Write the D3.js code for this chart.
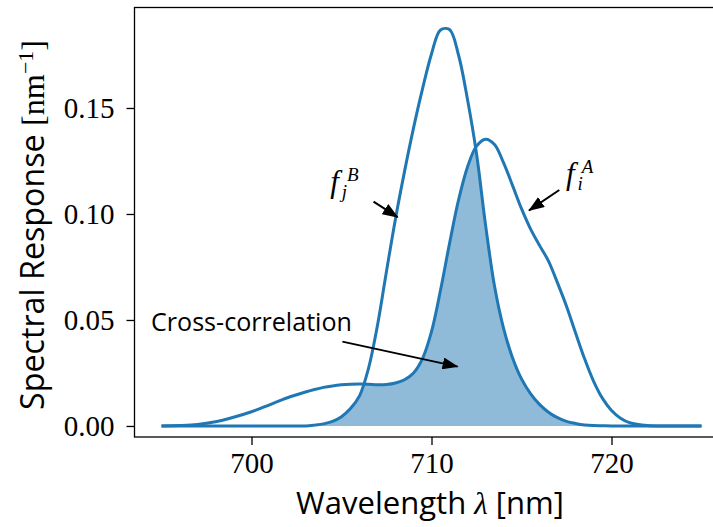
<!DOCTYPE html>
<html><head><meta charset="utf-8">
<script src="https://cdn.jsdelivr.net/npm/d3@7"></script>
<style>body{margin:0;background:#fff}svg{display:block}</style>
</head><body>
<svg id="chart" width="713" height="527"></svg>
<script>
// ---- data ----
const wavelength = [695, 696, 697, 698, 699, 700, 701, 702, 703, 703.5, 704, 704.5, 705, 705.5, 706, 706.5,
  707, 707.5, 708, 708.5, 709, 709.5, 710, 710.5, 711, 711.5, 712, 712.5, 713, 713.5, 714, 714.5,
  715, 715.5, 716, 716.5, 717, 717.5, 718, 718.5, 719, 719.5, 720, 720.5, 721, 722, 723, 724, 725];
const fA = [0, 0.0002, 0.0007, 0.0020, 0.0041, 0.0067, 0.0100, 0.0133, 0.0160, 0.0172, 0.0182, 0.0189, 0.0194, 0.0197, 0.0198, 0.0197,
  0.0195, 0.0196, 0.0203, 0.0218, 0.0250, 0.0318, 0.0445, 0.0640, 0.0860, 0.1065, 0.1222, 0.1320, 0.1353, 0.1328, 0.1242, 0.1135,
  0.1025, 0.0930, 0.0852, 0.0778, 0.0675, 0.0565, 0.0440, 0.0318, 0.0212, 0.0130, 0.0073, 0.0037, 0.0016, 0.0002, 0, 0, 0];
const fB = [0, 0, 0, 0, 0, 0, 0, 0, 0, 0.0004, 0.0010, 0.0022, 0.0044, 0.0082, 0.0142, 0.0272,
  0.0475, 0.0730, 0.0978, 0.1200, 0.1405, 0.1590, 0.1755, 0.1868, 0.1870, 0.1750, 0.1540, 0.1285, 0.0950, 0.0660, 0.0462, 0.0322,
  0.0222, 0.0153, 0.0102, 0.0065, 0.0039, 0.0022, 0.0012, 0.0005, 0.0002, 0.0001, 0, 0, 0, 0, 0, 0, 0];
const xTicks = [700, 710, 720];
const yTicks = [0.00, 0.05, 0.10, 0.15];
const xDomain = [693.5, 726.5];
const yDomain = [-0.0052, 0.1974];

// ---- layout ----
const C0 = "#1f77b4";
const svg = d3.select("#chart");
const L = 134.5, R = 728.5, T = 7.5, B = 437;
const x = d3.scaleLinear().domain(xDomain).range([L, R]);
const y = d3.scaleLinear().domain(yDomain).range([B, T]);
const SERIF = "'Liberation Serif', 'DejaVu Serif', serif";
const SANS = "'Open Sans', 'DejaVu Sans', sans-serif";

const ptsA = wavelength.map((w, i) => [w, fA[i]]);
const ptsB = wavelength.map((w, i) => [w, fB[i]]);

// overlap (min of both curves), with crossing points inserted
const ov = [];
for (let i = 0; i < wavelength.length; i++) {
  ov.push([wavelength[i], Math.min(fA[i], fB[i])]);
  if (i < wavelength.length - 1) {
    const d0 = fA[i] - fB[i], d1 = fA[i + 1] - fB[i + 1];
    if (d0 * d1 < 0) {
      const t = d0 / (d0 - d1);
      ov.push([wavelength[i] + t * (wavelength[i + 1] - wavelength[i]), fA[i] + t * (fA[i + 1] - fA[i])]);
    }
  }
}

svg.append("path")
  .attr("d", d3.area().x(d => x(d[0])).y0(y(0)).y1(d => y(d[1])).curve(d3.curveLinear)(ov))
  .attr("fill", C0).attr("fill-opacity", 0.5);

const line = d3.line().x(d => x(d[0])).y(d => y(d[1])).curve(d3.curveCatmullRom.alpha(0.5));
[ptsB, ptsA].forEach(p => svg.append("path").attr("d", line(p))
  .attr("fill", "none").attr("stroke", C0).attr("stroke-width", 3).attr("stroke-linejoin", "round"));

// ---- axes ----
const gx = svg.append("g").attr("transform", `translate(0,${B})`)
  .call(d3.axisBottom(x).tickValues(xTicks).tickSize(8).tickSizeOuter(0).tickPadding(7).tickFormat(d3.format("d")));
const gy = svg.append("g").attr("transform", `translate(${L},0)`)
  .call(d3.axisLeft(y).tickValues(yTicks).tickSize(8).tickSizeOuter(0).tickPadding(12).tickFormat(d3.format(".2f")));
[gx, gy].forEach(g => {
  g.select(".domain").remove();
  g.selectAll(".tick line").attr("stroke", "#000").attr("stroke-width", 1.3);
  g.selectAll(".tick text").attr("font-family", SERIF).attr("font-size", 29).attr("fill", "#000");
});
svg.append("rect").attr("x", L).attr("y", T).attr("width", R - L).attr("height", B - T)
  .attr("fill", "none").attr("stroke", "#000").attr("stroke-width", 1.3);

// ---- axis labels ----
function fitWidth(sel, target) {
  const w = sel.node().getBBox().width;
  const k = target / w;
  sel.attr("font-size", +sel.attr("font-size") * k);
  sel.selectAll("tspan").each(function () {
    const t = d3.select(this);
    if (t.attr("font-size")) t.attr("font-size", +t.attr("font-size") * k);
  });
}
const xl = svg.append("text").attr("x", 430).attr("y", 514).attr("text-anchor", "middle")
  .attr("font-family", SANS).attr("font-size", 28).attr("fill", "#000");
xl.append("tspan").text("Wavelength ");
xl.append("tspan").attr("font-family", SERIF).attr("font-style", "italic").text("λ");
xl.append("tspan").text(" [nm]");

const yl = svg.append("text").attr("transform", "translate(44,225) rotate(-90)").attr("text-anchor", "middle")
  .attr("font-family", SANS).attr("font-size", 28).attr("fill", "#000");
yl.append("tspan").text("Spectral Response ");
yl.append("tspan").attr("font-family", SERIF).text("[nm");
yl.append("tspan").attr("font-family", SERIF).attr("font-size", 19).attr("dy", -11).text("−1");
yl.append("tspan").attr("font-family", SERIF).attr("dy", 11).text("]");

// ---- annotations ----
const defs = svg.append("defs");
defs.append("marker").attr("id", "ah").attr("markerUnits", "userSpaceOnUse")
  .attr("viewBox", "0 0 16 12").attr("refX", 15).attr("refY", 6)
  .attr("markerWidth", 16).attr("markerHeight", 12).attr("orient", "auto")
  .append("path").attr("d", "M0,0 L16,6 L0,12 Z").attr("fill", "#000");
const arrows = [
  {from: [705.05, 0.0398], to: [711.45, 0.0280]},
  {from: [706.78, 0.1058], to: [708.12, 0.0985]},
  {from: [717.10, 0.1113], to: [715.42, 0.1017]}
];
arrows.forEach(a => svg.append("line")
  .attr("x1", x(a.from[0])).attr("y1", y(a.from[1])).attr("x2", x(a.to[0])).attr("y2", y(a.to[1]))
  .attr("stroke", "#000").attr("stroke-width", 2).attr("marker-end", "url(#ah)"));

const cc = svg.append("text").attr("x", 151).attr("y", 331).attr("font-family", SANS)
  .attr("font-size", 24).attr("fill", "#000").text("Cross-correlation");

function fLabel(at, sub, sup) {
  const t = svg.append("text").attr("x", x(at[0])).attr("y", y(at[1]))
    .attr("font-family", SERIF).attr("font-style", "italic").attr("font-size", 31).attr("fill", "#000");
  t.append("tspan").text("f");
  t.append("tspan").attr("font-size", 19).attr("dx", 3).attr("dy", 6).text(sub);
  t.append("tspan").attr("font-size", 19).attr("dx", sub === "j" ? 0 : -1).attr("dy", -17).text(sup);
}
fLabel([704.37, 0.1105], "j", "B");
fLabel([717.47, 0.1140], "i", "A");

fitWidth(xl, 268);
fitWidth(yl, 370);
fitWidth(cc, 201);
</script>
</body></html>
